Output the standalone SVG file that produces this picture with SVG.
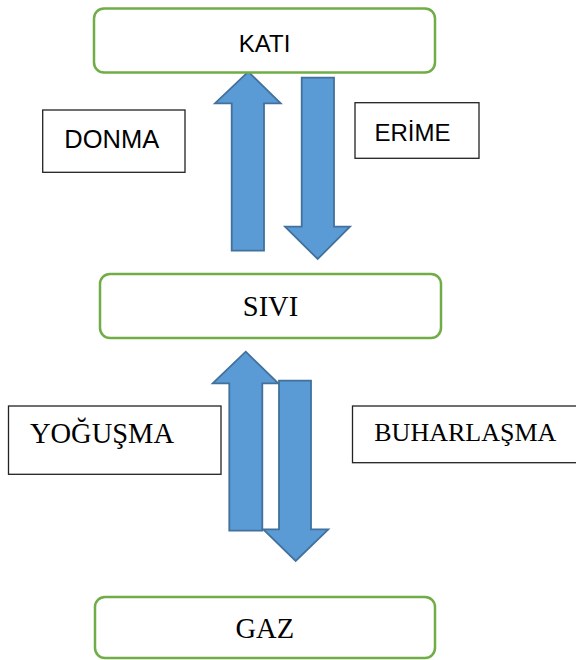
<svg xmlns="http://www.w3.org/2000/svg" width="576" height="660" viewBox="0 0 576 660">
<style>
.state{fill:#fff;stroke:#70AD47;stroke-width:2.5}
.lbl{fill:#fff;stroke:#222;stroke-width:1.3}
.arr{fill:#5B9BD5;stroke:#41719C;stroke-width:1.8;stroke-linejoin:miter}
.sans{font-family:"Liberation Sans",Arial,sans-serif;fill:#000;text-anchor:middle}
.serif{font-family:"Liberation Serif","Times New Roman",serif;fill:#000;text-anchor:middle}
</style>
<rect width="576" height="660" fill="#fff"/>
<g id="connectors">
<polygon class="arr" points="248.3,71.7 280.7,103.3 264,103.3 264,250.7 231.7,250.7 231.7,103.3 215,103.3"/>
<polygon class="arr" points="301.7,77.7 334,77.7 334,226.7 350,226.7 317.7,259 285,226.7 301.7,226.7"/>
<polygon class="arr" points="245.7,351.7 278.3,383.3 262.3,383.3 262.3,530.7 229.3,530.7 229.3,383.3 212.7,383.3"/>
<polygon class="arr" points="279,380.7 311,380.7 311,529.3 328.3,529.3 295.7,561 263.3,529.3 279,529.3"/>
</g>
<g id="kati">
<rect class="state" x="94" y="8.5" width="341" height="64" rx="10"/>
<text class="sans" x="264.6" y="51.7" font-size="24">KATI</text>
</g>
<g id="sivi">
<rect class="state" x="100" y="274" width="341" height="64" rx="10"/>
<text class="serif" x="270.5" y="315.7" font-size="28.5">SIVI</text>
</g>
<g id="gaz">
<rect class="state" x="95" y="597" width="340" height="61" rx="10"/>
<text class="serif" x="264.8" y="637.7" font-size="28.5">GAZ</text>
</g>
<g id="donma">
<rect class="lbl" x="42.7" y="110" width="142.3" height="62.3"/>
<text class="sans" x="111.7" y="148.3" font-size="25.5">DONMA</text>
</g>
<g id="erime">
<rect class="lbl" x="355" y="102.7" width="124" height="55.6"/>
<text class="sans" x="412.5" y="140.7" font-size="24">ERİME</text>
</g>
<g id="yogusma">
<rect class="lbl" x="8.5" y="406" width="212.5" height="68.3"/>
<text class="serif" x="102" y="443.3" font-size="28.5">YOĞUŞMA</text>
</g>
<g id="buharlasma">
<rect class="lbl" x="352.5" y="406" width="230" height="56.7"/>
<text class="serif" x="465.3" y="441" font-size="26">BUHARLAŞMA</text>
</g>
</svg>
